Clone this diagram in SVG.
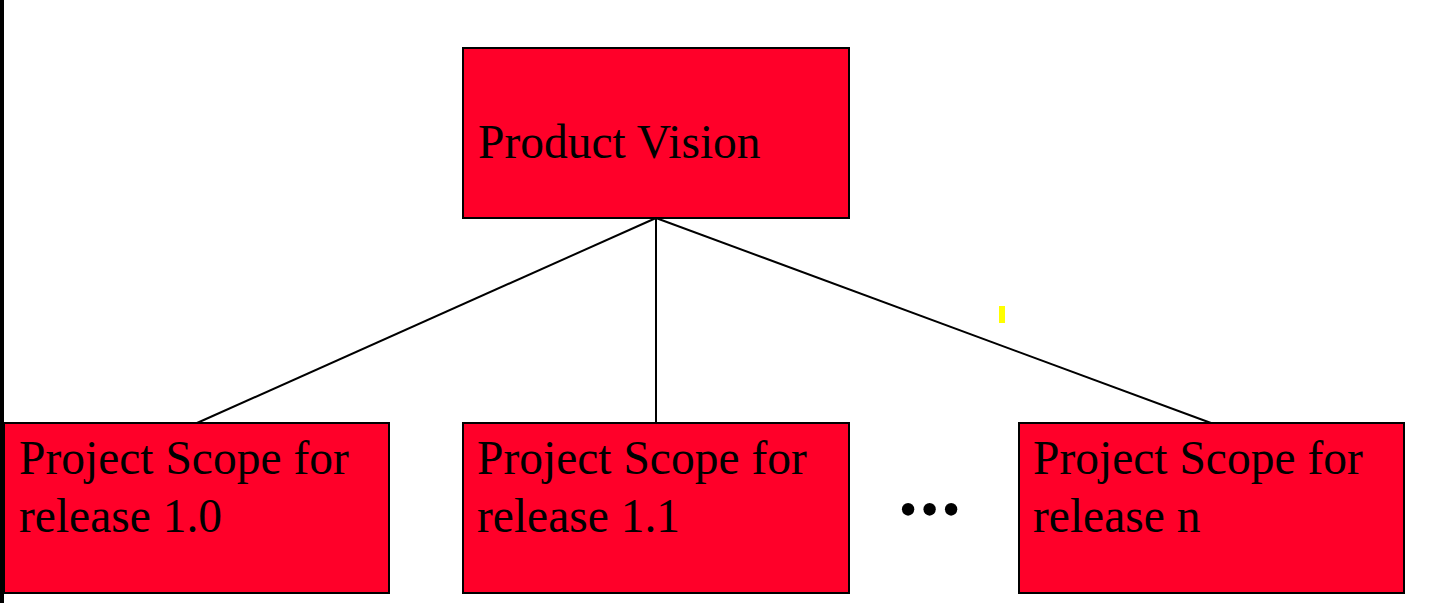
<svg xmlns="http://www.w3.org/2000/svg" width="1429" height="603" viewBox="0 0 1429 603">
<style>
.box{fill:#ff0029;stroke:#000;stroke-width:2}
.lbl{font-family:"Liberation Serif","Times New Roman",serif;font-size:47.5px;fill:#000}
.conn{stroke:#000;stroke-width:2;fill:none}
</style>
<rect x="0" y="0" width="1429" height="603" fill="#fff"/>
<rect x="0" y="0" width="4" height="603" fill="#000"/>
<g id="connectors">
<line class="conn" x1="656" y1="218" x2="197" y2="423"/>
<line class="conn" x1="656" y1="218" x2="656" y2="423"/>
<line class="conn" x1="656" y1="218" x2="1211" y2="423"/>
</g>
<g id="product-vision">
<rect class="box" x="463" y="48" width="386" height="170"/>
<text class="lbl" x="478" y="158">Product Vision</text>
</g>
<g id="scope-1-0">
<rect class="box" x="4" y="423" width="385" height="170"/>
<text class="lbl" x="19" y="474">Project Scope for</text>
<text class="lbl" x="19" y="532">release 1.0</text>
</g>
<g id="scope-1-1">
<rect class="box" x="463" y="423" width="386" height="170"/>
<text class="lbl" x="477" y="474">Project Scope for</text>
<text class="lbl" x="477" y="532">release 1.1</text>
</g>
<g id="scope-n">
<rect class="box" x="1019" y="423" width="385" height="170"/>
<text class="lbl" x="1033" y="474">Project Scope for</text>
<text class="lbl" x="1033" y="532">release n</text>
</g>
<text x="908 929.5 951" y="527" text-anchor="middle" style="font-family:'Liberation Serif','Times New Roman',serif;font-size:52px" fill="#000">•••</text>
<rect x="999" y="306" width="6" height="17" fill="#ffff00"/>
</svg>
